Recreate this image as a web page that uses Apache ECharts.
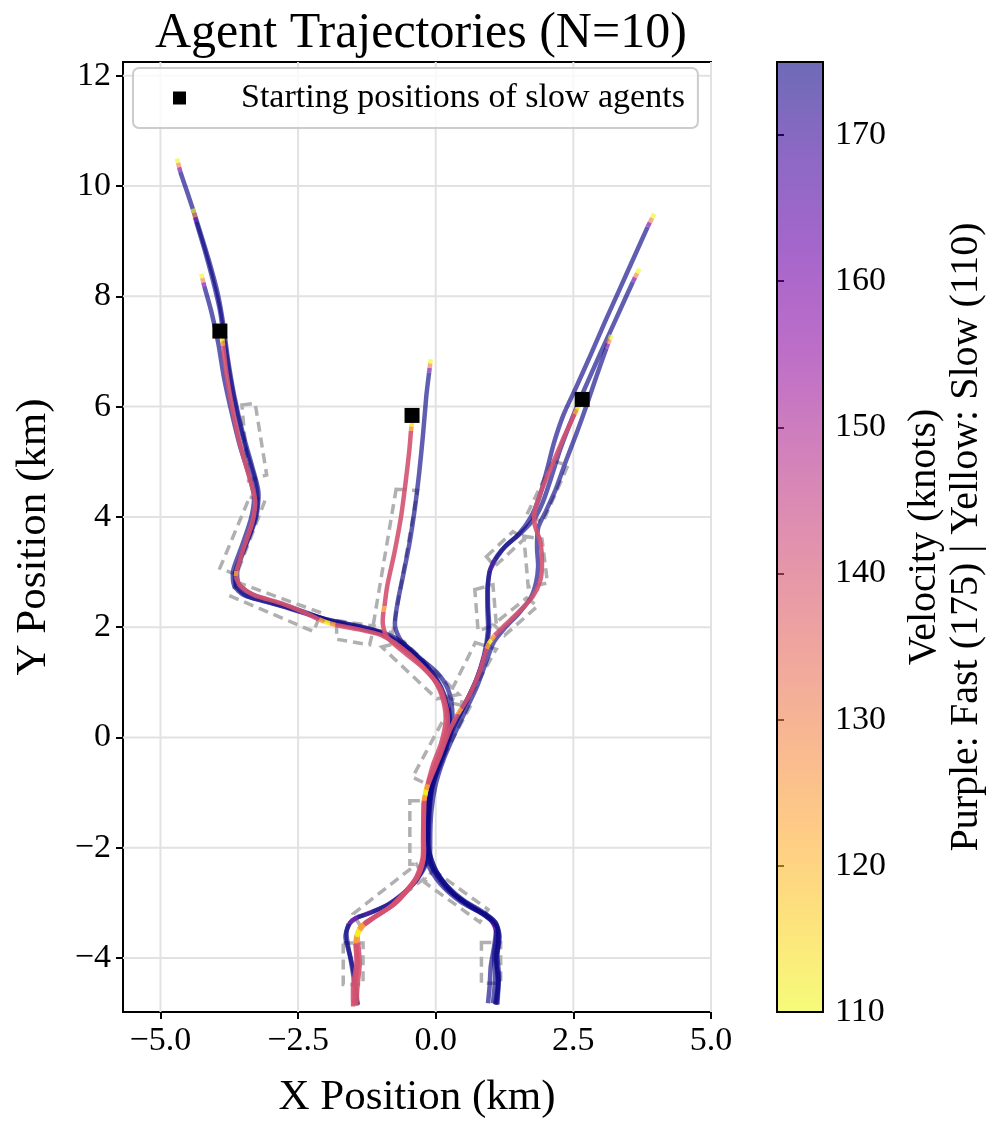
<!DOCTYPE html>
<html lang="en">

<head>
    <meta charset="UTF-8">
    <meta name="viewport" content="width=device-width, initial-scale=1.0">
    <title>Agent Trajectories</title>
</head>

<body style="height: 100%; margin: 0">
    <div id="main" style="width:995px;height:1130px"></div>
    <script type="text/javascript" src="https://cdn.jsdelivr.net/npm/echarts@6/dist/echarts.min.js"></script>
    <script type="text/javascript">

        var FONT = 'Liberation Serif';

        // axes
        var xRange = [-5.68, 5.0];
        var yRange = [-4.98, 12.25];
        var xTicks = [-5, -2.5, 0, 2.5, 5];
        var yTicks = [-4, -2, 0, 2, 4, 6, 8, 10, 12];
        var speedRange = [110, 175];
        var speedTicks = [110, 120, 130, 140, 150, 160, 170];

        // plasma colormap, t = 0 .. 1
        var plasma = ['#0d0887', '#41049d', '#6a00a8', '#8f0da4', '#b12a90', '#cc4778',
            '#e16462', '#f2844b', '#fca636', '#fcce25', '#f0f921'];

        // trajectories: [x, y] or [x, y, speed] (speed of the segment that starts here)
        var pathL1 = [[-4.70, 10.50, 110], [-4.68, 10.42, 130], [-4.66, 10.34, 160], [-4.64, 10.26], [-4.50, 9.85],
            [-4.32, 9.30], [-4.12, 8.65], [-3.96, 8.05], [-3.86, 7.50], [-3.78, 6.90], [-3.66, 6.20], [-3.50, 5.50],
            [-3.33, 4.90], [-3.22, 4.45], [-3.26, 4.00], [-3.44, 3.50], [-3.60, 3.05], [-3.58, 2.78], [-3.35, 2.60],
            [-2.90, 2.45], [-2.40, 2.28], [-1.90, 2.10], [-1.40, 1.98], [-0.95, 1.86], [-0.55, 1.60], [-0.18, 1.25],
            [0.08, 0.88], [0.22, 0.50], [0.24, 0.10], [0.10, -0.35], [-0.08, -0.80], [-0.17, -1.30], [-0.19, -1.90],
            [-0.20, -2.30], [-0.40, -2.65], [-0.80, -3.00], [-1.15, -3.16, 160], [-1.30, -3.22], [-1.52, -3.32],
            [-1.62, -3.52], [-1.58, -3.85], [-1.50, -4.20], [-1.45, -4.55], [-1.42, -4.84]];
        var pathL2 = [[-4.41, 9.59, 110], [-4.39, 9.51, 130], [-4.37, 9.43, 160], [-4.35, 9.35], [-4.20, 8.85],
            [-4.05, 8.30], [-3.92, 7.75], [-3.84, 7.20], [-3.74, 6.55], [-3.60, 5.85], [-3.44, 5.20], [-3.28, 4.65],
            [-3.24, 4.25], [-3.32, 3.85], [-3.50, 3.38], [-3.64, 3.00], [-3.62, 2.74], [-3.42, 2.56], [-3.00, 2.44],
            [-2.50, 2.30], [-2.00, 2.14], [-1.50, 2.03], [-1.05, 1.92], [-0.65, 1.72], [-0.30, 1.42], [0.00, 1.08],
            [0.18, 0.72], [0.26, 0.35], [0.22, -0.05], [0.06, -0.50], [-0.07, -0.95], [-0.12, -1.50], [-0.12, -2.05],
            [0.02, -2.45], [0.35, -2.85], [0.72, -3.10], [0.98, -3.28, 160], [1.08, -3.42], [1.10, -3.62],
            [1.06, -3.95], [1.08, -4.35], [1.04, -4.82]];
        var pathL3 = [[-4.26, 8.41, 110], [-4.24, 8.33, 130], [-4.22, 8.25, 160], [-4.20, 8.17], [-4.07, 7.70],
            [-3.95, 7.15], [-3.85, 6.55], [-3.72, 5.95], [-3.56, 5.30], [-3.38, 4.72], [-3.30, 4.35], [-3.36, 3.95],
            [-3.54, 3.42], [-3.68, 3.02], [-3.66, 2.75], [-3.48, 2.58], [-3.05, 2.46], [-2.60, 2.32], [-2.10, 2.17],
            [-1.60, 2.06], [-1.15, 1.96], [-0.72, 1.80], [-0.38, 1.52], [-0.05, 1.15], [0.14, 0.78], [0.22, 0.42],
            [0.20, 0.02], [0.04, -0.45], [-0.10, -0.90], [-0.15, -1.45], [-0.14, -2.00], [0.00, -2.40], [0.28, -2.80],
            [0.65, -3.08], [0.92, -3.22], [1.10, -3.38], [1.14, -3.62], [1.10, -4.00], [1.14, -4.40], [1.12, -4.84]];
        var pathC = [[-0.09, 6.86, 110], [-0.10, 6.78, 130], [-0.11, 6.70, 160], [-0.12, 6.62], [-0.17, 6.20],
            [-0.23, 5.50], [-0.30, 4.80], [-0.38, 4.15], [-0.48, 3.50], [-0.60, 2.90], [-0.70, 2.40], [-0.74, 2.02],
            [-0.62, 1.74], [-0.30, 1.45], [0.02, 1.18], [0.22, 0.88], [0.30, 0.50], [0.28, 0.10], [0.12, -0.40],
            [-0.05, -0.85], [-0.13, -1.35], [-0.16, -1.95], [-0.20, -2.35], [-0.45, -2.70], [-0.85, -3.02],
            [-1.18, -3.18], [-1.42, -3.26, 160], [-1.58, -3.38], [-1.64, -3.62], [-1.56, -3.95], [-1.50, -4.30],
            [-1.46, -4.60], [-1.42, -4.86]];
        var pathR1 = [[3.97, 9.50, 110], [3.93, 9.42, 130], [3.89, 9.34, 160], [3.85, 9.26], [3.62, 8.75], [3.35, 8.15],
            [3.08, 7.55], [2.82, 6.95], [2.55, 6.35], [2.32, 5.85], [2.15, 5.35], [2.02, 4.85], [1.88, 4.35],
            [1.72, 3.98], [1.50, 3.68], [1.25, 3.45], [1.08, 3.22, 160], [0.98, 3.02], [0.94, 2.70], [0.94, 2.30],
            [0.95, 1.95], [0.88, 1.50], [0.72, 1.00], [0.50, 0.55], [0.28, 0.12], [0.08, -0.35], [-0.08, -0.80],
            [-0.14, -1.30], [-0.16, -1.90], [-0.14, -2.30], [0.08, -2.65], [0.45, -2.98], [0.82, -3.18],
            [1.02, -3.32, 160], [1.10, -3.50], [1.06, -3.80], [1.00, -4.15], [0.98, -4.50], [0.95, -4.82]];
        var pathR2 = [[3.70, 8.50, 110], [3.66, 8.42, 130], [3.62, 8.34, 160], [3.58, 8.26], [3.36, 7.78], [3.12, 7.25],
            [2.88, 6.72], [2.66, 6.22], [2.45, 5.72], [2.26, 5.22], [2.10, 4.72], [1.95, 4.28], [1.80, 3.98],
            [1.56, 3.72], [1.30, 3.50], [1.12, 3.30], [1.00, 3.08], [0.95, 2.80], [0.95, 2.40], [0.97, 2.00],
            [0.92, 1.62], [0.78, 1.15], [0.58, 0.70], [0.36, 0.25], [0.14, -0.22], [-0.03, -0.68], [-0.11, -1.15],
            [-0.14, -1.70], [-0.13, -2.20], [0.10, -2.58], [0.50, -2.95], [0.88, -3.18], [1.08, -3.35], [1.16, -3.60],
            [1.12, -3.95], [1.15, -4.35], [1.10, -4.85]];
        var pathR3 = [[3.19, 7.30, 110], [3.16, 7.22, 130], [3.13, 7.14, 160], [3.10, 7.06], [2.92, 6.55], [2.75, 6.05],
            [2.56, 5.52], [2.36, 5.00], [2.18, 4.50], [2.00, 4.10], [1.86, 3.80], [1.84, 3.45], [1.86, 3.10],
            [1.82, 2.80], [1.72, 2.52], [1.50, 2.24], [1.25, 1.98], [1.05, 1.72], [0.92, 1.38], [0.76, 0.95],
            [0.56, 0.52], [0.35, 0.08], [0.15, -0.38], [0.00, -0.85], [-0.08, -1.35], [-0.10, -1.90], [-0.08, -2.32],
            [0.18, -2.72], [0.58, -3.04], [0.92, -3.25], [1.12, -3.45], [1.14, -3.72], [1.10, -4.05], [1.13, -4.45],
            [1.08, -4.84]];
        var pathLS = [[-3.88, 7.26, 112], [-3.87, 7.18, 125], [-3.86, 7.10], [-3.80, 6.60], [-3.70, 6.00], [-3.55, 5.30],
            [-3.38, 4.70], [-3.28, 4.30], [-3.33, 3.90], [-3.50, 3.40], [-3.62, 3.02, 125], [-3.63, 2.92], [-3.55, 2.75],
            [-3.30, 2.58], [-2.80, 2.43], [-2.35, 2.25], [-2.12, 2.14, 125], [-2.02, 2.10, 112], [-1.92, 2.07, 125],
            [-1.82, 2.04], [-1.40, 1.96], [-1.00, 1.86], [-0.65, 1.65], [-0.30, 1.35], [0.00, 1.00], [0.14, 0.65],
            [0.18, 0.30], [0.10, -0.10], [-0.05, -0.50], [-0.14, -0.82, 125], [-0.17, -0.92, 112], [-0.19, -1.02, 125],
            [-0.21, -1.12], [-0.22, -1.70], [-0.22, -2.15], [-0.32, -2.50], [-0.70, -2.98], [-1.05, -3.22],
            [-1.28, -3.36, 125], [-1.38, -3.45, 112], [-1.44, -3.58, 125], [-1.45, -3.70], [-1.42, -4.10],
            [-1.46, -4.50], [-1.48, -4.85]];
        var pathCS = [[-0.43, 5.72, 112], [-0.44, 5.64, 125], [-0.45, 5.56], [-0.48, 5.20], [-0.55, 4.60], [-0.63, 4.00],
            [-0.75, 3.35], [-0.88, 2.75], [-0.93, 2.38, 125], [-0.95, 2.28], [-0.96, 2.05], [-0.88, 1.82],
            [-0.62, 1.58], [-0.25, 1.28], [0.05, 0.95], [0.18, 0.60], [0.22, 0.25], [0.12, -0.15], [-0.03, -0.55],
            [-0.15, -0.88, 125], [-0.18, -0.98, 112], [-0.20, -1.08, 125], [-0.22, -1.18], [-0.23, -1.80],
            [-0.24, -2.20], [-0.38, -2.58], [-0.80, -3.05], [-1.12, -3.26], [-1.30, -3.38, 125], [-1.40, -3.48, 112],
            [-1.42, -3.60, 125], [-1.41, -3.72], [-1.38, -4.10], [-1.42, -4.50], [-1.44, -4.86]];
        var pathRS = [[2.60, 6.02, 112], [2.56, 5.94, 125], [2.52, 5.86], [2.30, 5.38], [2.12, 4.95], [1.95, 4.55],
            [1.80, 4.12], [1.80, 3.85], [1.90, 3.55], [1.93, 3.15], [1.90, 2.85], [1.76, 2.55], [1.48, 2.25],
            [1.20, 1.98], [1.07, 1.85, 125], [1.01, 1.77, 112], [0.96, 1.70, 125], [0.92, 1.60], [0.80, 1.20],
            [0.62, 0.78], [0.47, 0.53, 125], [0.40, 0.42], [0.25, 0.12], [0.05, -0.40], [-0.14, -0.85, 125],
            [-0.17, -0.95, 112], [-0.19, -1.05, 125], [-0.21, -1.15], [-0.22, -1.75], [-0.22, -2.20], [-0.34, -2.55],
            [-0.75, -3.02], [-1.08, -3.24], [-1.30, -3.40, 125], [-1.38, -3.50, 112], [-1.44, -3.62, 125],
            [-1.46, -3.74], [-1.44, -4.10], [-1.50, -4.50], [-1.50, -4.88]];

        var agentNames = ['L1', 'L2', 'L3', 'C', 'R1', 'R2', 'R3', 'LS', 'CS', 'RS'];
        var agentPaths = [pathL1, pathL2, pathL3, pathC, pathR1, pathR2, pathR3, pathLS, pathCS, pathRS];
        var cruiseSpeed = [175, 175, 175, 175, 175, 175, 175, 140, 140, 140];
        var slowStarts = [[-3.92, 7.37], [-0.43, 5.84], [2.66, 6.13]];

        // dashed corridor outlines, 4 corners each
        var corridorRects = [
            [[-3.52, 6.03], [-3.28, 6.06], [-3.07, 4.76], [-3.40, 4.66]],
            [[-3.38, 4.36], [-3.10, 4.30], [-3.62, 2.95], [-3.92, 3.07]],
            [[-3.62, 2.82], [-2.08, 2.26], [-2.22, 1.92], [-3.72, 2.56]],
            [[-1.80, 2.12], [-1.12, 2.02], [-1.20, 1.68], [-1.80, 1.78]],
            [[-0.98, 1.64], [-0.58, 1.74], [0.42, 0.78], [0.02, 0.70]],
            [[0.30, 0.62], [0.62, 0.55], [-0.14, -0.86], [-0.42, -0.72]],
            [[0.72, 1.72], [1.10, 1.60], [0.55, 0.62], [0.22, 0.72]],
            [[0.71, 2.68], [1.04, 2.77], [1.10, 2.05], [0.77, 1.93]],
            [[0.92, 3.28], [1.40, 3.73], [1.62, 3.61], [1.07, 3.10]],
            [[1.60, 3.65], [1.93, 3.60], [2.03, 2.80], [1.68, 2.73]],
            [[1.65, 2.53], [1.85, 2.38], [1.25, 1.85], [1.05, 2.05]],
            [[2.13, 5.02], [2.40, 4.93], [1.95, 3.91], [1.65, 4.03]],
            [[-0.72, 4.50], [-0.33, 4.48], [-0.78, 1.90], [-1.15, 1.95]],
            [[-0.47, -1.15], [-0.13, -1.15], [-0.13, -2.30], [-0.47, -2.30]],
            [[-0.35, -2.30], [-0.20, -2.55], [-1.35, -3.45], [-1.50, -3.20]],
            [[-0.05, -2.40], [0.95, -3.12], [0.80, -3.35], [-0.20, -2.63]],
            [[-1.68, -3.73], [-1.32, -3.73], [-1.32, -4.48], [-1.68, -4.48]],
            [[0.83, -3.72], [1.18, -3.72], [1.18, -4.46], [0.83, -4.46]]
        ];

        function withAlpha(hex, a) {
            var n = parseInt(hex.slice(1), 16);
            return 'rgba(' + (n >> 16) + ',' + ((n >> 8) & 255) + ',' + (n & 255) + ',' + a + ')';
        }

        // group consecutive segments of equal speed into runs [agent, from, to, speed]
        function buildRuns(a) {
            var pts = agentPaths[a], runs = [];
            var speedAt = function (i) { return pts[i].length > 2 ? pts[i][2] : cruiseSpeed[a]; };
            var start = 0;
            for (var i = 1; i < pts.length - 1; i++) {
                if (speedAt(i) !== speedAt(start)) {
                    runs.push([a, start, i, speedAt(start)]);
                    start = i;
                }
            }
            runs.push([a, start, pts.length - 1, speedAt(start)]);
            return runs;
        }

        function renderRun(params, api) {
            var a = api.value(0), from = api.value(1), to = api.value(2);
            var pts = [];
            for (var k = from; k <= to; k++) {
                pts.push(api.coord([agentPaths[a][k][0], agentPaths[a][k][1]]));
            }
            return {
                type: 'polyline',
                shape: { points: pts, smooth: 0.25 },
                style: {
                    stroke: api.visual('color'),
                    fill: null,
                    lineWidth: 4.5,
                    opacity: cruiseSpeed[a] < 175 ? 0.9 : 0.65,
                    lineCap: 'butt',
                    lineJoin: 'round'
                }
            };
        }

        var tickFont = { fontSize: 34, fontFamily: FONT, color: '#000' };
        var nameFont = { fontSize: 43, fontFamily: FONT, color: '#000' };
        var blackLine = { color: '#000', width: 2 };

        var series = [];

        // grid lines
        series.push({
            type: 'custom', xAxisIndex: 0, yAxisIndex: 0, silent: true, z: 1,
            data: xTicks.map(function (v) { return [v, yRange[0], yRange[1]]; }),
            renderItem: function (params, api) {
                var p1 = api.coord([api.value(0), api.value(1)]);
                var p2 = api.coord([api.value(0), api.value(2)]);
                return { type: 'line', shape: { x1: p1[0], y1: p1[1], x2: p2[0], y2: p2[1] },
                    style: { stroke: '#e2e2e2', lineWidth: 2 } };
            }
        });
        series.push({
            type: 'custom', xAxisIndex: 0, yAxisIndex: 0, silent: true, z: 1,
            data: yTicks.map(function (v) { return [xRange[0], v, xRange[1]]; }),
            renderItem: function (params, api) {
                var p1 = api.coord([api.value(0), api.value(1)]);
                var p2 = api.coord([api.value(2), api.value(1)]);
                return { type: 'line', shape: { x1: p1[0], y1: p1[1], x2: p2[0], y2: p2[1] },
                    style: { stroke: '#e2e2e2', lineWidth: 2 } };
            }
        });

        // dashed corridors
        series.push({
            type: 'custom', xAxisIndex: 0, yAxisIndex: 0, silent: true, z: 2,
            data: corridorRects.map(function (r) { return [].concat(r[0], r[1], r[2], r[3]); }),
            renderItem: function (params, api) {
                var pts = [];
                for (var k = 0; k < 4; k++) pts.push(api.coord([api.value(2 * k), api.value(2 * k + 1)]));
                return { type: 'polygon', shape: { points: pts },
                    style: { fill: 'none', stroke: '#b0b0b0', lineWidth: 3.5, lineDash: [10, 6] } };
            }
        });

        // trajectories
        var trajIndex = [];
        agentPaths.forEach(function (p, a) {
            trajIndex.push(series.length);
            series.push({
                type: 'custom', name: agentNames[a], xAxisIndex: 0, yAxisIndex: 0, silent: true,
                z: cruiseSpeed[a] < 175 ? 4 : 3,
                data: buildRuns(a),
                renderItem: renderRun
            });
        });

        // start markers of slow agents
        series.push({
            type: 'scatter', name: 'Starting positions of slow agents', xAxisIndex: 0, yAxisIndex: 0, z: 6,
            symbol: 'rect', symbolSize: 15, itemStyle: { color: '#000', opacity: 1 }, data: slowStarts
        });

        // colorbar
        var cbStops = plasma.map(function (c, i) { return { offset: i / (plasma.length - 1), color: withAlpha(c, 0.6) }; });
        series.push({
            type: 'custom', xAxisIndex: 1, yAxisIndex: 1, silent: true,
            data: [[0, speedRange[0], 1, speedRange[1]]],
            renderItem: function (params, api) {
                var lo = api.coord([api.value(0), api.value(1)]);
                var hi = api.coord([api.value(2), api.value(3)]);
                return { type: 'rect',
                    shape: { x: lo[0], y: hi[1], width: hi[0] - lo[0], height: lo[1] - hi[1] },
                    style: { fill: new echarts.graphic.LinearGradient(0, 0, 0, 1, cbStops), stroke: '#000', lineWidth: 2 } };
            }
        });

        var option = {
            animation: false,
            backgroundColor: '#fff',
            title: {
                text: 'Agent Trajectories (N=10)',
                left: 150, top: 4,
                textStyle: { fontSize: 50, fontWeight: 'normal', fontFamily: FONT, color: '#000' }
            },
            legend: {
                data: ['Starting positions of slow agents'],
                left: 133, top: 68,
                icon: 'rect', itemWidth: 13, itemHeight: 13,
                padding: [13, 13, 13, 40],
                textStyle: { fontSize: 34, fontFamily: FONT, color: '#000', padding: [0, 0, 0, 50] },
                borderColor: '#cccccc', borderWidth: 2, borderRadius: 6,
                backgroundColor: 'rgba(255,255,255,0.8)'
            },
            visualMap: {
                type: 'continuous', show: false,
                min: speedRange[0], max: speedRange[1], dimension: 3,
                seriesIndex: trajIndex,
                inRange: { color: plasma.slice().reverse() }
            },
            grid: [
                { left: 123, top: 62, width: 588, height: 950, show: true, borderColor: '#000', borderWidth: 2 },
                { left: 777, top: 62, width: 46, height: 950 }
            ],
            xAxis: [
                {
                    type: 'value', gridIndex: 0, min: xRange[0], max: xRange[1],
                    axisLine: { show: true, onZero: false, lineStyle: blackLine },
                    axisTick: { show: true, customValues: xTicks, length: 7, lineStyle: blackLine },
                    axisLabel: Object.assign({ customValues: xTicks, margin: 12,
                        formatter: function (v) { return v.toFixed(1).replace('-', '\u2212'); } }, tickFont),
                    splitLine: { show: false },
                    name: 'X Position (km)', nameLocation: 'middle', nameGap: 64, nameTextStyle: nameFont
                },
                { type: 'value', gridIndex: 1, min: 0, max: 1, show: false }
            ],
            yAxis: [
                {
                    type: 'value', gridIndex: 0, min: yRange[0], max: yRange[1],
                    axisLine: { show: true, onZero: false, lineStyle: blackLine },
                    axisTick: { show: true, customValues: yTicks, length: 7, lineStyle: blackLine },
                    axisLabel: Object.assign({ customValues: yTicks, margin: 12,
                        formatter: function (v) { return String(v).replace('-', '\u2212'); } }, tickFont),
                    splitLine: { show: false },
                    name: 'Y Position (km)', nameLocation: 'middle', nameGap: 68, nameRotate: 90,
                    nameTextStyle: nameFont
                },
                {
                    type: 'value', gridIndex: 1, position: 'right', min: speedRange[0], max: speedRange[1],
                    axisLine: { show: false },
                    axisTick: { show: true, customValues: speedTicks, length: 7, lineStyle: blackLine },
                    axisLabel: Object.assign({ customValues: speedTicks, margin: 12 }, tickFont),
                    splitLine: { show: false },
                    name: 'Velocity (knots)\nPurple: Fast (175) | Yellow: Slow (110)',
                    nameLocation: 'middle', nameGap: 80, nameRotate: 90,
                    nameTextStyle: { fontSize: 40, fontFamily: FONT, color: '#000', lineHeight: 42 }
                }
            ],
            series: series
        };

        var myChart = echarts.init(document.getElementById('main'));
        myChart.setOption(option);

    </script>
</body>

</html>
